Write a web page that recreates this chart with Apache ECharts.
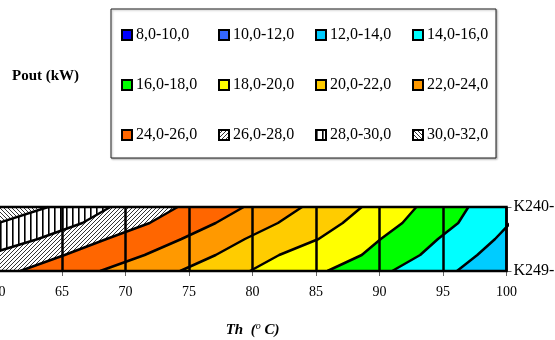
<!DOCTYPE html>
<html>
<head>
<meta charset="utf-8">
<script src="https://cdn.jsdelivr.net/npm/echarts@6/dist/echarts.min.js"></script>
<style>
  html, body { margin: 0; padding: 0; background: #fff; }
  #main { width: 555px; height: 340px; }
</style>
</head>
<body>
<div id="main"></div>
<script>
// Pout bands, from lowest to highest
var bandNames = ["8,0-10,0", "10,0-12,0", "12,0-14,0", "14,0-16,0",
  "16,0-18,0", "18,0-20,0", "20,0-22,0", "22,0-24,0",
  "24,0-26,0", "26,0-28,0", "28,0-30,0", "30,0-32,0"];
var bandColors = ["#0000FF", "#3366FF", "#00CCFF", "#00FFFF",
  "#00FF00", "#FFFF00", "#FFCC00", "#FF9900",
  "#FF6600", "hatchUp", "hatchVert", "hatchDown"];

// y position inside the K249 (0) .. K240 (1) strip
var yLevels = [0, 0.25, 0.5, 0.75, 1];
// Th where each contour crosses the y levels
var c14 = [96.1, 97.7, 99.1, 100.3, 101.5];
var c16 = [91.0, 93.2, 94.6, 96.2, 97.0];
var c18 = [85.9, 88.6, 90.1, 91.8, 92.9];
var c20 = [79.8, 82.1, 85.2, 87.1, 88.6];
var c22 = [74.3, 77.1, 79.4, 82.0, 83.9];
var c24 = [68.0, 71.5, 74.4, 77.1, 79.3];
var c26 = [61.7, 65.2, 68.5, 71.9, 74.1];
var c28 = [55.0, 59.0, 63.1, 66.6, 68.8];
var c30 = [49.5, 53.0, 56.6, 60.0, 63.9];

var xTicks = [60, 65, 70, 75, 80, 85, 90, 95, 100];
var yLabels = ["K249-", "K240-"];

var farLeft = [30, 30, 30, 30, 30];
var farRight = [130, 130, 130, 130, 130];
// band index -> [left contour, right contour] (higher Pout is on the left)
var bandEdges = {
  2: [c14, farRight], 3: [c16, c14], 4: [c18, c16], 5: [c20, c18],
  6: [c22, c20], 7: [c24, c22], 8: [c26, c24], 9: [c28, c26],
  10: [c30, c28], 11: [farLeft, c30]
};
var contours = [c14, c16, c18, c20, c22, c24, c26, c28, c30];

function makePattern(kind) {
  var c = document.createElement("canvas");
  var ctx = c.getContext("2d");
  if (kind === "hatchVert") {
    c.width = 6; c.height = 4;
    ctx.fillStyle = "#fff"; ctx.fillRect(0, 0, 6, 4);
    ctx.fillStyle = "#000"; ctx.fillRect(0, 0, 1.6, 4);
    return { image: c, repeat: "repeat" };
  }
  var s = 4;
  c.width = s; c.height = s;
  ctx.fillStyle = "#fff"; ctx.fillRect(0, 0, s, s);
  ctx.strokeStyle = "#333"; ctx.lineWidth = 1;
  ctx.beginPath();
  if (kind === "hatchUp") {
    ctx.moveTo(-1, s + 1); ctx.lineTo(s + 1, -1);
    ctx.moveTo(-1, 1); ctx.lineTo(1, -1);
    ctx.moveTo(s - 1, s + 1); ctx.lineTo(s + 1, s - 1);
  } else {
    ctx.moveTo(-1, -1); ctx.lineTo(s + 1, s + 1);
    ctx.moveTo(s - 1, -1); ctx.lineTo(s + 1, 1);
    ctx.moveTo(-1, s - 1); ctx.lineTo(1, s + 1);
  }
  ctx.stroke();
  return { image: c, repeat: "repeat" };
}

function colorOf(i) {
  var col = bandColors[i];
  return col.charAt(0) === "#" ? col : makePattern(col);
}

var serif = "Liberation Serif, Times New Roman, serif";
var series = [];

bandNames.forEach(function (name, i) {
  var edges = bandEdges[i];
  series.push({
    name: name,
    type: "custom",
    z: 1,
    clip: true,
    itemStyle: { color: colorOf(i) },
    data: edges ? [[i]] : [],
    renderItem: function (params, api) {
      var left = edges[0], right = edges[1];
      var pts = [];
      yLevels.forEach(function (y, k) { pts.push(api.coord([left[k], y])); });
      for (var k = yLevels.length - 1; k >= 0; k--) pts.push(api.coord([right[k], yLevels[k]]));
      return {
        type: "polygon",
        shape: { points: pts },
        style: { fill: api.visual("color"), stroke: null }
      };
    }
  });
});

contours.forEach(function (c) {
  series.push({
    type: "line",
    z: 3,
    symbol: "none",
    silent: true,
    lineStyle: { color: "#000", width: 2.5 },
    data: yLevels.map(function (y, k) { return [c[k], y]; })
  });
});

// one legend per entry so the 4 x 3 layout lines up in columns
var legends = bandNames.map(function (name, i) {
  return {
    orient: "horizontal",
    left: 121 + (i % 4) * 97,
    top: 27 + Math.floor(i / 4) * 50,
    padding: 0,
    itemWidth: 10,
    itemHeight: 10,
    icon: "rect",
    selectedMode: false,
    data: [name],
    itemStyle: { borderColor: "#000", borderWidth: 2 },
    textStyle: { fontFamily: serif, fontSize: 16, color: "#000", padding: [0, 0, 0, -1] }
  };
});

var chart = echarts.init(document.getElementById("main"), null, { renderer: "canvas" });
chart.setOption({
  animation: false,
  backgroundColor: "#fff",
  title: {
    text: "Pout (kW)",
    left: 12,
    top: 69,
    padding: 0,
    textStyle: { fontFamily: serif, fontSize: 15, fontWeight: "bold", color: "#000" }
  },
  legend: legends,
  graphic: [{
    type: "rect",
    z: -1,
    shape: { x: 111, y: 9, width: 385, height: 149 },
    style: { fill: "#fff", stroke: "#222", lineWidth: 1, shadowBlur: 2, shadowOffsetX: 1, shadowOffsetY: 1, shadowColor: "rgba(0,0,0,0.3)" }
  }],
  grid: {
    left: -1.4,
    right: 48.5,
    top: 207,
    bottom: 69,
    show: true,
    z: 6,
    containLabel: false,
    outerBoundsMode: "none",
    borderColor: "#000",
    borderWidth: 2.5,
    backgroundColor: "transparent"
  },
  xAxis: {
    type: "value",
    min: xTicks[0],
    max: xTicks[xTicks.length - 1],
    interval: 5,
    z: 5,
    name: "{a|Th  (}{s|o}{a| C)}",
    nameLocation: "middle",
    nameGap: 50,
    nameTextStyle: {
      rich: {
        a: { fontFamily: serif, fontSize: 15, fontWeight: "bold", fontStyle: "italic", color: "#000" },
        s: { fontFamily: serif, fontSize: 10, fontStyle: "italic", color: "#000", padding: [0, 0, 8, 0] }
      }
    },
    axisLine: { show: false },
    axisTick: { show: true, length: 5, lineStyle: { color: "#666", width: 1 } },
    axisLabel: { fontFamily: serif, fontSize: 14, color: "#000", margin: 14 },
    splitLine: { show: true, lineStyle: { color: "#000", width: 2.5 } }
  },
  yAxis: {
    type: "value",
    position: "right",
    min: 0,
    max: 1,
    interval: 1,
    axisLine: { show: false },
    axisTick: { show: true, length: 5, lineStyle: { color: "#666", width: 1 } },
    axisLabel: {
      fontFamily: serif, fontSize: 16, color: "#000", margin: 7,
      formatter: function (v) { return yLabels[v]; }
    },
    splitLine: { show: false }
  },
  series: series
});
</script>
</body>
</html>
